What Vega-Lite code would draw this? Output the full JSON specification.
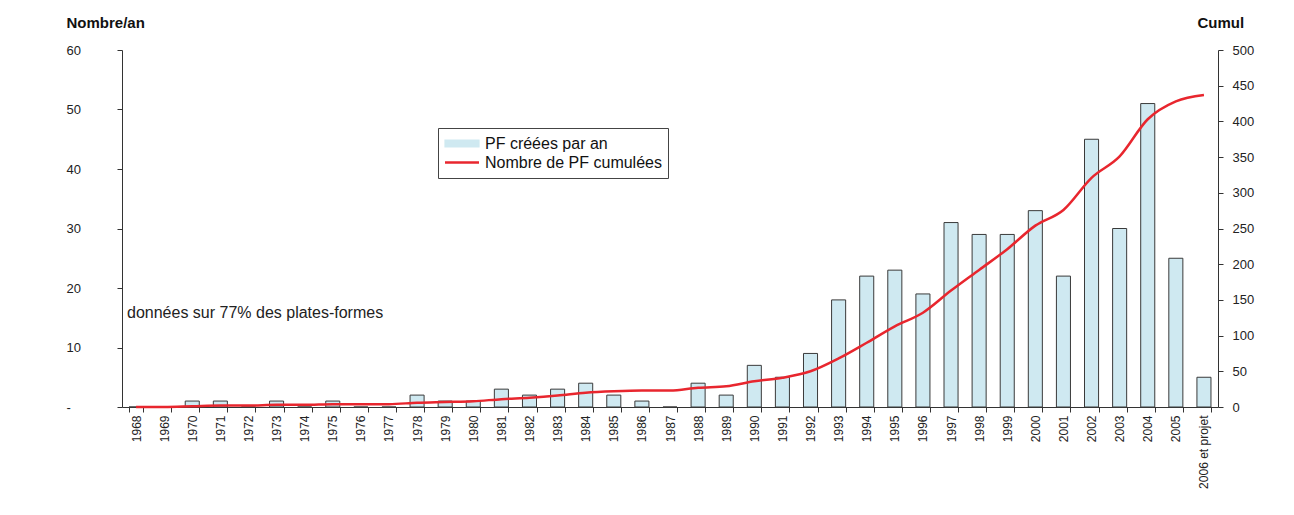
{
  "$schema": "https://vega.github.io/schema/vega-lite/v6.json",
  "width": 1096,
  "height": 357,
  "autosize": "none",
  "padding": {"left": 122, "top": 50, "right": 76, "bottom": 108},
  "background": "white",
  "config": {
    "font": "Liberation Sans",
    "view": {"stroke": null},
    "axis": {"domainColor": "#333", "tickColor": "#333", "labelColor": "#222", "grid": false}
  },
  "data": {
    "values": [
      {"annee": "1968", "nb": 0, "cumul": 0},
      {"annee": "1969", "nb": 0, "cumul": 0},
      {"annee": "1970", "nb": 1, "cumul": 1},
      {"annee": "1971", "nb": 1, "cumul": 2},
      {"annee": "1972", "nb": 0, "cumul": 2},
      {"annee": "1973", "nb": 1, "cumul": 3},
      {"annee": "1974", "nb": 0, "cumul": 3},
      {"annee": "1975", "nb": 1, "cumul": 4},
      {"annee": "1976", "nb": 0, "cumul": 4},
      {"annee": "1977", "nb": 0, "cumul": 4},
      {"annee": "1978", "nb": 2, "cumul": 6},
      {"annee": "1979", "nb": 1, "cumul": 7},
      {"annee": "1980", "nb": 1, "cumul": 8},
      {"annee": "1981", "nb": 3, "cumul": 11},
      {"annee": "1982", "nb": 2, "cumul": 13},
      {"annee": "1983", "nb": 3, "cumul": 16},
      {"annee": "1984", "nb": 4, "cumul": 20},
      {"annee": "1985", "nb": 2, "cumul": 22},
      {"annee": "1986", "nb": 1, "cumul": 23},
      {"annee": "1987", "nb": 0, "cumul": 23},
      {"annee": "1988", "nb": 4, "cumul": 27},
      {"annee": "1989", "nb": 2, "cumul": 29},
      {"annee": "1990", "nb": 7, "cumul": 36},
      {"annee": "1991", "nb": 5, "cumul": 41},
      {"annee": "1992", "nb": 9, "cumul": 50},
      {"annee": "1993", "nb": 18, "cumul": 68},
      {"annee": "1994", "nb": 22, "cumul": 90},
      {"annee": "1995", "nb": 23, "cumul": 113},
      {"annee": "1996", "nb": 19, "cumul": 132},
      {"annee": "1997", "nb": 31, "cumul": 163},
      {"annee": "1998", "nb": 29, "cumul": 192},
      {"annee": "1999", "nb": 29, "cumul": 221},
      {"annee": "2000", "nb": 33, "cumul": 254},
      {"annee": "2001", "nb": 22, "cumul": 276},
      {"annee": "2002", "nb": 45, "cumul": 321},
      {"annee": "2003", "nb": 30, "cumul": 351},
      {"annee": "2004", "nb": 51, "cumul": 403},
      {"annee": "2005", "nb": 25, "cumul": 428},
      {"annee": "2006 et projet", "nb": 5, "cumul": 437}
    ]
  },
  "encoding": {
    "x": {
      "field": "annee",
      "type": "ordinal",
      "sort": null,
      "title": null,
      "scale": {"paddingInner": 0.5, "paddingOuter": 0.25},
      "axis": {
        "labelAngle": -90,
        "labelFontSize": 12,
        "labelPadding": 3,
        "tickBand": "extent",
        "tickSize": 5,
        "domainColor": "#333"
      }
    }
  },
  "layer": [
    {
      "mark": {"type": "bar", "stroke": "#3a3a3a", "strokeWidth": 1},
      "encoding": {
        "y": {
          "field": "nb",
          "type": "quantitative",
          "scale": {"domain": [0, 60]},
          "axis": {
            "orient": "left",
            "values": [0, 10, 20, 30, 40, 50, 60],
            "labelExpr": "datum.value === 0 ? '-' : datum.label",
            "labelFontSize": 13,
            "labelAlign": "left",
            "labelPadding": 51,
            "tickSize": 5,
            "title": "Nombre/an",
            "titleAngle": 0,
            "titleAlign": "left",
            "titleBaseline": "alphabetic",
            "titleX": -56,
            "titleY": -23,
            "titleFontSize": 15,
            "titleFontWeight": "bold",
            "titleColor": "#111"
          }
        },
        "color": {
          "datum": "PF créées par an",
          "type": "nominal",
          "scale": {
            "domain": ["PF créées par an", "Nombre de PF cumulées"],
            "range": ["#cfe9f1", "#e8262e"]
          },
          "legend": {
            "title": null,
            "orient": "none",
            "legendX": 316,
            "legendY": 78,
            "strokeColor": "#444",
            "fillColor": "white",
            "padding": 6,
            "labelFontSize": 16,
            "labelColor": "#111",
            "labelLimit": 400,
            "symbolSize": 1156,
            "clipHeight": 19,
            "symbolOffset": 10,
            "labelOffset": 15,
            "rowPadding": 0,
            "encode": {
              "symbols": {
                "update": {
                  "shape": {"signal": "datum.value === 'PF créées par an' ? 'M-1,-0.2H1V0.2H-1Z' : 'stroke'"},
                  "fill": {"signal": "datum.value === 'PF créées par an' ? '#cfe9f1' : 'transparent'"},
                  "stroke": {"signal": "datum.value === 'PF créées par an' ? '#333333' : '#e8262e'"},
                  "strokeWidth": {"signal": "datum.value === 'PF créées par an' ? 1.2 : 2.5"},
                  "strokeOpacity": {"value": 1},
                  "fillOpacity": {"value": 1},
                  "opacity": {"value": 1}
                }
              }
            }
          }
        }
      }
    },
    {
      "mark": {"type": "line", "strokeWidth": 2.5, "interpolate": "monotone"},
      "encoding": {
        "y": {
          "field": "cumul",
          "type": "quantitative",
          "scale": {"domain": [0, 500]},
          "axis": {
            "orient": "right",
            "values": [0, 50, 100, 150, 200, 250, 300, 350, 400, 450, 500],
            "labelFontSize": 13,
            "labelPadding": 9,
            "tickSize": 5,
            "title": "Cumul",
            "titleAngle": 0,
            "titleAlign": "left",
            "titleBaseline": "alphabetic",
            "titleX": -21,
            "titleY": -23,
            "titleFontSize": 15,
            "titleFontWeight": "bold",
            "titleColor": "#111"
          }
        },
        "color": {
          "datum": "Nombre de PF cumulées",
          "type": "nominal",
          "legend": {
            "title": null,
            "orient": "none",
            "legendX": 316,
            "legendY": 78,
            "strokeColor": "#444",
            "fillColor": "white",
            "padding": 6,
            "labelFontSize": 16,
            "labelColor": "#111",
            "labelLimit": 400,
            "symbolSize": 1156,
            "clipHeight": 19,
            "symbolOffset": 10,
            "labelOffset": 15,
            "rowPadding": 0,
            "encode": {
              "symbols": {
                "update": {
                  "shape": {"signal": "datum.value === 'PF créées par an' ? 'M-1,-0.2H1V0.2H-1Z' : 'stroke'"},
                  "fill": {"signal": "datum.value === 'PF créées par an' ? '#cfe9f1' : 'transparent'"},
                  "stroke": {"signal": "datum.value === 'PF créées par an' ? '#333333' : '#e8262e'"},
                  "strokeWidth": {"signal": "datum.value === 'PF créées par an' ? 1.2 : 2.5"},
                  "strokeOpacity": {"value": 1},
                  "fillOpacity": {"value": 1},
                  "opacity": {"value": 1}
                }
              }
            }
          }
        }
      }
    },
    {
      "data": {"values": [{"annee": "1968", "v": 15.8, "txt": "données sur 77% des plates-formes"}]},
      "mark": {"type": "text", "align": "left", "baseline": "middle", "fontSize": 16, "color": "#222", "dx": -2},
      "encoding": {
        "x": {"field": "annee", "type": "ordinal", "bandPosition": 0},
        "y": {"field": "v", "type": "quantitative", "scale": {"domain": [0, 60]}, "axis": null},
        "text": {"field": "txt"}
      }
    }
  ],
  "resolve": {"scale": {"y": "independent"}}
}
